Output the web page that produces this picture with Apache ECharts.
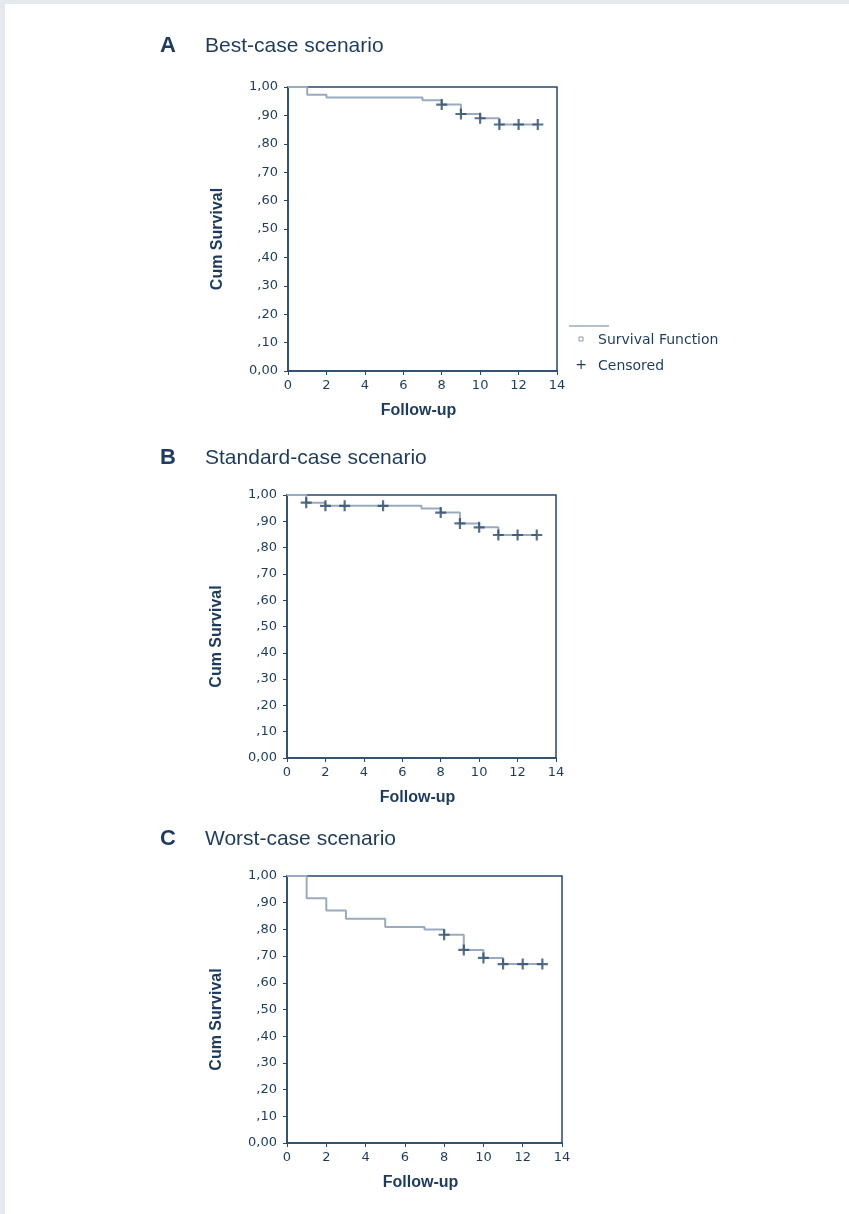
<!DOCTYPE html>
<html>
<head>
<meta charset="utf-8">
<script src="https://cdn.jsdelivr.net/npm/echarts@6/dist/echarts.min.js"></script>
<style>
  html, body { margin: 0; padding: 0; background: #ffffff; }
  #chart { width: 849px; height: 1214px; }
</style>
</head>
<body>
<div id="chart"></div>
<script>
// panel letters and titles
const panelLetters = ['A', 'B', 'C'];
const panelTitles = ['Best-case scenario', 'Standard-case scenario', 'Worst-case scenario'];

// survival function (step) per panel: time and cumulative survival
const timesA = [0, 1, 2, 7, 8, 9, 10, 11, 13];
const survA = [1, 0.973, 0.963, 0.953, 0.938, 0.905, 0.890, 0.868, 0.868];
const timesB = [0, 1, 2, 7, 8, 9, 10, 11, 13];
const survB = [1, 0.971, 0.959, 0.949, 0.933, 0.892, 0.877, 0.848, 0.848];
const timesC = [0, 1, 2, 3, 5, 7, 8, 9, 10, 11, 13];
const survC = [1, 0.917, 0.871, 0.840, 0.809, 0.800, 0.780, 0.723, 0.693, 0.670, 0.670];

// censored observations per panel
const censTimesA = [8, 9, 10, 11, 12, 13];
const censSurvA = [0.938, 0.905, 0.890, 0.868, 0.868, 0.868];
const censTimesB = [1, 2, 3, 5, 8, 9, 10, 11, 12, 13];
const censSurvB = [0.971, 0.959, 0.959, 0.959, 0.933, 0.892, 0.877, 0.848, 0.848, 0.848];
const censTimesC = [8, 9, 10, 11, 12, 13];
const censSurvC = [0.780, 0.723, 0.693, 0.670, 0.670, 0.670];

const legendNames = ['Survival Function', 'Censored'];
const xAxisTitle = 'Follow-up';
const yAxisTitle = 'Cum Survival';

const navy = '#1d3b5e';
const axisNavy = '#274869';
const stepColor = '#9aabbf';
const plusPath = 'path://M4,0H6V4H10V6H6V10H4V6H0V4H4Z';

const zip = (xs, ys) => xs.map((x, i) => [x, ys[i]]);
const steps = [zip(timesA, survA), zip(timesB, survB), zip(timesC, survC)];
const censored = [zip(censTimesA, censSurvA), zip(censTimesB, censSurvB), zip(censTimesC, censSurvC)];

// plot box of each panel
const grids = [
  { left: 288, top: 87, width: 269, height: 284 },
  { left: 287, top: 495, width: 269, height: 263 },
  { left: 287, top: 876, width: 275, height: 267 }
];
const titleTops = [35, 447, 828];

const fmtY = v => {
  if (v >= 0.999) return '1,00';
  if (v <= 0.001) return '0,00';
  return ',' + Math.round(v * 100);
};

const chart = echarts.init(document.getElementById('chart'));

const option = {
  backgroundColor: '#ffffff',
  animation: false,
  textStyle: { fontFamily: 'DejaVu Sans', color: navy },
  title: panelLetters.flatMap((l, i) => [
    { text: l, left: 160, top: titleTops[i], padding: 0,
      textStyle: { fontFamily: 'Liberation Sans', fontSize: 22, fontWeight: 'bold', color: navy } },
    { text: panelTitles[i], left: 205, top: titleTops[i] + 1, padding: 0,
      textStyle: { fontFamily: 'Liberation Sans', fontSize: 21, fontWeight: 'normal', color: navy } }
  ]),
  grid: grids.map(g => ({ ...g, show: true, borderColor: axisNavy, borderWidth: 1.5, backgroundColor: 'transparent', containLabel: false })),
  xAxis: grids.map((g, i) => ({
    type: 'value', gridIndex: i, min: 0, max: 14, interval: 2,
    name: xAxisTitle, nameLocation: 'middle', nameGap: 32,
    nameTextStyle: { fontFamily: 'Liberation Sans', fontWeight: 'bold', fontSize: 16, color: navy, padding: [0, 8, 0, 0] },
    axisLine: { lineStyle: { color: axisNavy, width: 1.5 } },
    axisTick: { show: true, length: 4, lineStyle: { color: axisNavy } },
    axisLabel: { margin: 8, fontSize: 13, color: navy },
    splitLine: { show: false }
  })),
  yAxis: grids.map((g, i) => ({
    type: 'value', gridIndex: i, min: 0, max: 1, interval: 0.1,
    name: yAxisTitle, nameLocation: 'middle', nameGap: 62, nameRotate: 90,
    nameTextStyle: { fontFamily: 'Liberation Sans', fontWeight: 'bold', fontSize: 16, color: navy, padding: [0, 20, 0, 0] },
    axisLine: { lineStyle: { color: axisNavy, width: 1.5 } },
    axisTick: { show: true, length: 4, lineStyle: { color: axisNavy } },
    axisLabel: { margin: 10, fontSize: 13, color: navy, formatter: fmtY },
    splitLine: { show: false }
  })),
  series: [0, 1, 2].flatMap(i => [
    {
      name: legendNames[0], type: 'line', step: 'end',
      xAxisIndex: i, yAxisIndex: i, data: steps[i],
      showSymbol: false, lineStyle: { color: stepColor, width: 2 }, z: 2
    },
    {
      name: legendNames[1], type: 'scatter',
      xAxisIndex: i, yAxisIndex: i, data: censored[i],
      symbol: plusPath, symbolSize: 11,
      itemStyle: { color: '#2b4b6c' }, z: 3
    }
  ]),
  graphic: [
    { type: 'rect', shape: { x: 0, y: 0, width: 849, height: 4 }, style: { fill: '#e5e8ed' }, silent: true },
    { type: 'rect', shape: { x: 0, y: 0, width: 5, height: 1214 }, style: { fill: '#e5e8ed' }, silent: true },
    // legend for panel A
    { type: 'line', shape: { x1: 569, y1: 326, x2: 609, y2: 326 }, style: { stroke: stepColor, lineWidth: 1.5 } },
    { type: 'rect', shape: { x: 579, y: 337, width: 4, height: 4 }, style: { fill: '#fff', stroke: '#8a9bb0', lineWidth: 1 } },
    { type: 'text', x: 598, y: 340, style: { text: legendNames[0], font: '14px "DejaVu Sans"', fill: navy, verticalAlign: 'middle' } },
    { type: 'text', x: 581, y: 365, style: { text: '+', font: '14px "DejaVu Sans"', fill: navy, align: 'center', verticalAlign: 'middle' } },
    { type: 'text', x: 598, y: 366, style: { text: legendNames[1], font: '14px "DejaVu Sans"', fill: navy, verticalAlign: 'middle' } }
  ]
};

chart.setOption(option);
</script>
</body>
</html>
